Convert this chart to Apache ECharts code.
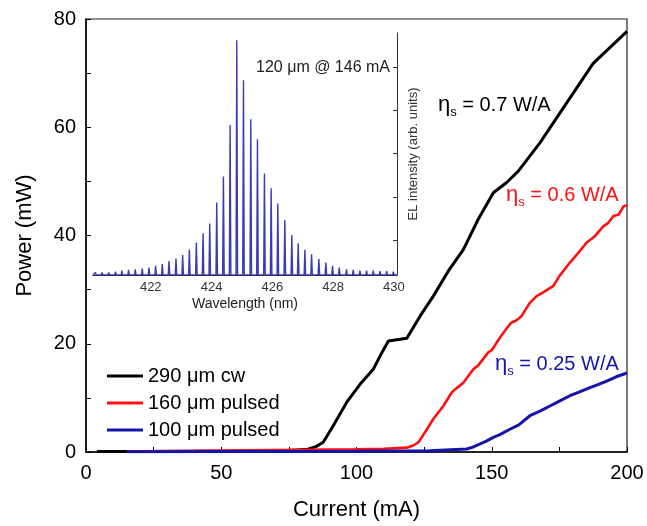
<!DOCTYPE html>
<html>
<head>
<meta charset="utf-8">
<script src="https://cdn.jsdelivr.net/npm/echarts@6/dist/echarts.min.js"></script>
<style>
  html, body { margin: 0; padding: 0; background: #fff; }
  #chart { width: 647px; height: 526px; }
</style>
</head>
<body>
<div id="chart"></div>
<script>
// main L-I curves (current in mA, power in mW)
const cwCurrent = [4, 20, 40, 60, 75, 82, 85, 87.7, 91.4, 96.4, 101.3, 106.2, 109, 111.8, 118.6, 123.5, 128.4, 133.9, 139.5, 145, 150.6, 155.5, 159.8, 167.8, 177.7, 187.5, 200];
const cwPower = [0.1, 0.1, 0.15, 0.2, 0.3, 0.5, 1.0, 1.8, 4.85, 9.2, 12.5, 15.3, 18, 20.5, 21.0, 25.1, 28.8, 33.4, 37.4, 43, 47.9, 49.8, 51.9, 57.1, 64.5, 71.8, 77.7];

const p160Current = [15, 40, 60, 80, 100, 110, 118.6, 121, 122.9, 125.3, 128.4, 132.1, 135.2, 137, 139.5, 143.2, 145, 148.7, 150, 153, 155, 157, 159, 161, 164, 166.6, 169, 172.8, 175, 178.9, 182, 185.1, 188, 191.2, 193, 195, 197, 198.7, 200];
const p160Power = [0.1, 0.2, 0.3, 0.4, 0.5, 0.6, 0.8, 1.2, 1.8, 3.6, 6.1, 8.5, 11.0, 11.8, 12.8, 15.3, 16, 18.4, 18.8, 21.1, 22.5, 23.8, 24.3, 25.1, 27.5, 28.8, 29.5, 30.7, 32.5, 35, 36.8, 38.7, 39.8, 41.7, 42.3, 43.6, 43.9, 45.4, 45.6];

const p100Current = [15, 60, 100, 127, 140.7, 143, 145.7, 148, 150.6, 153, 156.7, 160, 164.1, 168, 171.5, 175, 178.9, 182, 186.3, 189, 192.5, 196, 200];
const p100Power = [0.05, 0.1, 0.15, 0.25, 0.55, 0.9, 1.5, 2.0, 2.7, 3.2, 4.2, 5.0, 6.7, 7.6, 8.5, 9.4, 10.4, 11.0, 11.9, 12.4, 13.1, 13.9, 14.6];

const seriesNames = ['290 μm cw', '160 μm pulsed', '100 μm pulsed'];

// inset spectrum: mode wavelengths (nm) and peak heights (arb. units)
const modeWavelength = [420.18, 420.40, 420.62, 420.84, 421.05, 421.27, 421.49, 421.72, 421.94, 422.16, 422.38, 422.60, 422.83, 423.05, 423.27, 423.50, 423.72, 423.94, 424.17, 424.39, 424.61, 424.83, 425.05, 425.29, 425.51, 425.74, 425.96, 426.18, 426.41, 426.64, 426.85, 427.07, 427.29, 427.53, 427.76, 427.98, 428.20, 428.44, 428.66, 428.88, 429.10, 429.32, 429.54, 429.76, 429.98];
const modeIntensity = [0.06, 0.06, 0.06, 0.08, 0.10, 0.12, 0.13, 0.15, 0.17, 0.21, 0.25, 0.32, 0.38, 0.46, 0.59, 0.75, 0.96, 1.19, 1.67, 2.27, 3.46, 5.41, 4.49, 3.59, 3.13, 2.34, 2.00, 1.65, 1.27, 0.92, 0.73, 0.58, 0.48, 0.37, 0.29, 0.21, 0.17, 0.13, 0.12, 0.10, 0.10, 0.10, 0.09, 0.09, 0.08];
const wavelengthTicks = [422, 424, 426, 428, 430];
const intensityTicks = [0.8, 1.8, 2.8, 3.8, 4.8];

const FONT = 'Liberation Sans';

function pairs(xs, ys) {
  return xs.map((x, i) => [x, ys[i]]);
}

// each mode as a thin spike on the baseline
const spectrum = [[420.1, 0]];
modeWavelength.forEach((wl, i) => {
  spectrum.push([wl - 0.025, 0], [wl, modeIntensity[i]], [wl + 0.025, 0]);
});
spectrum.push([430.1, 0]);

function etaLabel(rest) {
  return '{e|η}{s|s}{t|' + rest + '}';
}
function etaRich(color) {
  return {
    e: { fontFamily: FONT, fontSize: 22, lineHeight: 28, fill: color },
    s: { fontFamily: FONT, fontSize: 13, lineHeight: 13, verticalAlign: 'bottom', fill: color },
    t: { fontFamily: FONT, fontSize: 20, lineHeight: 28, fill: color },
  };
}

const myChart = echarts.init(document.getElementById('chart'));
const option = {
  animation: false,
  backgroundColor: '#fff',
  grid: [
    { left: 86, right: 20, top: 19, bottom: 73, show: true, borderColor: '#222', borderWidth: 1.2 },
    { left: 93, right: 250, top: 33, bottom: 251 },
  ],
  legend: {
    data: seriesNames,
    orient: 'vertical',
    left: 102,
    top: 361,
    itemGap: 7,
    itemWidth: 36,
    itemHeight: 3,
    icon: 'rect',
    textStyle: { fontFamily: FONT, fontSize: 20, color: '#000' },
  },
  xAxis: [
    {
      type: 'value',
      gridIndex: 0,
      min: 0,
      max: 200,
      interval: 25,
      name: 'Current (mA)',
      nameLocation: 'middle',
      nameGap: 47,
      nameTextStyle: { fontFamily: FONT, fontSize: 22, color: '#000' },
      axisLine: { lineStyle: { color: '#000', width: 1.5 } },
      axisTick: { inside: true, length: 5, lineStyle: { color: '#000' } },
      axisLabel: {
        margin: 11,
        fontFamily: FONT,
        fontSize: 20,
        color: '#000',
        formatter: (v) => (v % 50 === 0 ? String(v) : ''),
      },
      splitLine: { show: false },
    },
    {
      type: 'value',
      gridIndex: 1,
      min: 420.1,
      max: 430.1,
      name: 'Wavelength (nm)',
      nameLocation: 'middle',
      nameGap: 22,
      nameTextStyle: { fontFamily: FONT, fontSize: 14, color: '#222' },
      axisLine: { lineStyle: { color: '#222', width: 1 } },
      axisTick: { show: false },
      axisLabel: {
        customValues: wavelengthTicks,
        margin: 6,
        fontFamily: FONT,
        fontSize: 13,
        color: '#333',
      },
      splitLine: { show: false },
    },
  ],
  yAxis: [
    {
      type: 'value',
      gridIndex: 0,
      min: 0,
      max: 80,
      interval: 10,
      name: 'Power (mW)',
      nameLocation: 'middle',
      nameRotate: 90,
      nameGap: 50,
      nameTextStyle: { fontFamily: FONT, fontSize: 22, color: '#000' },
      axisLine: { lineStyle: { color: '#000', width: 1.5 } },
      axisTick: { inside: true, length: 5, lineStyle: { color: '#000' } },
      axisLabel: {
        margin: 10,
        fontFamily: FONT,
        fontSize: 20,
        color: '#000',
        formatter: (v) => (v % 20 === 0 ? String(v) : ''),
      },
      splitLine: { show: false },
    },
    {
      type: 'value',
      gridIndex: 1,
      position: 'right',
      min: 0,
      max: 5.58,
      name: 'EL intensity (arb. units)',
      nameLocation: 'middle',
      nameRotate: 90,
      nameGap: 10,
      nameTextStyle: { fontFamily: FONT, fontSize: 13, color: '#333' },
      axisLine: { show: true, lineStyle: { color: '#333', width: 1 } },
      axisTick: { show: true, inside: true, length: 4, customValues: intensityTicks, lineStyle: { color: '#333' } },
      axisLabel: { show: false },
      splitLine: { show: false },
    },
  ],
  series: [
    {
      name: seriesNames[0],
      type: 'line',
      xAxisIndex: 0,
      yAxisIndex: 0,
      showSymbol: false,
      color: '#000000',
      lineStyle: { width: 3 },
      data: pairs(cwCurrent, cwPower),
    },
    {
      name: seriesNames[1],
      type: 'line',
      xAxisIndex: 0,
      yAxisIndex: 0,
      showSymbol: false,
      color: '#ff1010',
      lineStyle: { width: 2.6 },
      data: pairs(p160Current, p160Power),
    },
    {
      name: seriesNames[2],
      type: 'line',
      xAxisIndex: 0,
      yAxisIndex: 0,
      showSymbol: false,
      color: '#1414a8',
      lineStyle: { width: 3 },
      data: pairs(p100Current, p100Power),
    },
    {
      name: 'spectrum',
      type: 'line',
      xAxisIndex: 1,
      yAxisIndex: 1,
      showSymbol: false,
      color: '#3b3bb8',
      lineStyle: { width: 1.4 },
      data: spectrum,
    },
  ],
  graphic: [
    {
      type: 'text',
      right: 257,
      top: 60,
      style: { text: '120 μm @ 146 mA', fontFamily: FONT, fontSize: 16, fill: '#222' },
    },
    {
      type: 'text',
      left: 438,
      top: 94,
      style: { text: etaLabel(' = 0.7 W/A'), rich: etaRich('#000') },
    },
    {
      type: 'text',
      left: 506,
      top: 184,
      style: { text: etaLabel(' = 0.6 W/A'), rich: etaRich('#ff1010') },
    },
    {
      type: 'text',
      left: 495,
      top: 353,
      style: { text: etaLabel(' = 0.25 W/A'), rich: etaRich('#1414a8') },
    },
  ],
};
myChart.setOption(option);
</script>
</body>
</html>
